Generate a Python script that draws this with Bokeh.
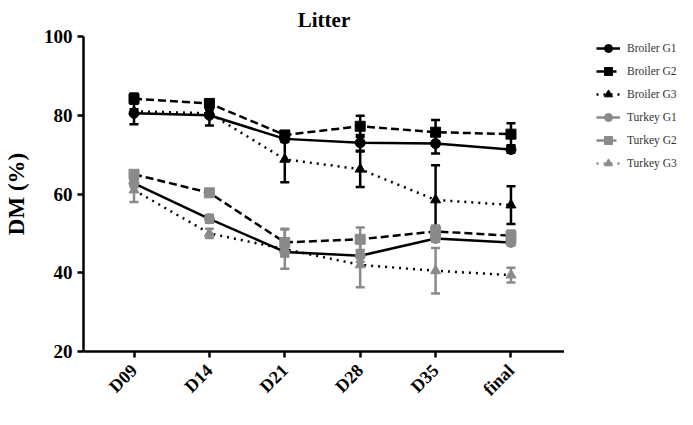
import numpy as np
from bokeh.plotting import figure
from bokeh.layouts import row
from bokeh.models import (Range1d, FixedTicker, Whisker, TeeHead, ColumnDataSource,
                          Legend, LegendItem)
from bokeh.embed import file_html
from bokeh.resources import INLINE

categories = ["D09", "D14", "D21", "D28", "D35", "final"]

broiler_g1 = [80.5, 80.0, 74.0, 73.0, 72.8, 71.3]
broiler_g1_err = [2.8, 2.6, 0.8, 2.0, 2.5, 0.8]
broiler_g2 = [84.2, 83.0, 75.0, 77.2, 75.7, 75.2]
broiler_g2_err = [1.3, 0.9, 0.9, 2.7, 3.1, 2.8]
broiler_g3 = [81.0, 80.5, 68.8, 66.3, 58.5, 57.2]
broiler_g3_err = [0.5, 0.8, 5.8, 4.5, 8.8, 4.8]
turkey_g1 = [62.7, 53.7, 45.3, 44.3, 48.7, 47.7]
turkey_g1_err = [1.0, 1.0, 1.2, 1.5, 0.8, 0.8]
turkey_g2 = [65.0, 60.3, 47.7, 48.5, 50.5, 49.4]
turkey_g2_err = [0.6, 0.6, 3.5, 3.0, 1.5, 1.3]
turkey_g3 = [61.0, 50.0, 46.0, 42.0, 40.5, 39.4]
turkey_g3_err = [3.0, 1.2, 5.0, 5.7, 5.8, 1.9]

series = [
    ("Broiler G1", broiler_g1, broiler_g1_err, "black", "solid", "circle"),
    ("Broiler G2", broiler_g2, broiler_g2_err, "black", "8 4", "square"),
    ("Broiler G3", broiler_g3, broiler_g3_err, "black", "2 5", "triangle"),
    ("Turkey G1", turkey_g1, turkey_g1_err, "#8a8a8a", "solid", "circle"),
    ("Turkey G2", turkey_g2, turkey_g2_err, "#8a8a8a", "8 4", "square"),
    ("Turkey G3", turkey_g3, turkey_g3_err, "#8a8a8a", "2 5", "triangle"),
]

FONT = "Liberation Serif"

p = figure(width=564, height=409, output_backend="svg", toolbar_location=None,
           x_range=Range1d(-0.67, 5.71), y_range=Range1d(20, 100),
           min_border_left=71, min_border_right=0, min_border_top=32,
           min_border_bottom=57, title="Litter")
p.outline_line_color = None
p.grid.visible = False
p.title.align = "center"
p.title.text_font = FONT
p.title.text_font_size = "21px"
p.title.text_font_style = "bold"
p.title.text_color = "black"

leg_fig = figure(width=120, height=409, output_backend="svg", toolbar_location=None,
                 x_range=Range1d(0, 1), y_range=Range1d(0, 1),
                 min_border=0)
leg_fig.outline_line_color = None
leg_fig.axis.visible = False
leg_fig.grid.visible = False

xs = list(range(len(categories)))
items = []
for name, vals, errs, color, dash, marker in series:
    src = ColumnDataSource(dict(x=xs, y=vals,
                                lo=[v - e for v, e in zip(vals, errs)],
                                hi=[v + e for v, e in zip(vals, errs)]))
    p.line("x", "y", source=src, line_color="black", line_width=2.5, line_dash=dash)
    w = Whisker(base="x", upper="hi", lower="lo", source=src,
                line_color=color, line_width=2.5,
                upper_head=TeeHead(size=9, line_color=color, line_width=2.5),
                lower_head=TeeHead(size=9, line_color=color, line_width=2.5))
    p.add_layout(w)
    p.scatter("x", "y", source=src, marker=marker, size=10,
              fill_color=color, line_color=color)
    lgl = leg_fig.line([0], [0], line_color=color, line_width=2.5, line_dash=dash, visible=False)
    lgs = leg_fig.scatter([0], [0], marker=marker, size=9, fill_color=color,
                          line_color=color, visible=False)
    items.append(LegendItem(label=name, renderers=[lgl, lgs]))

legend = Legend(items=items, location=(32, 178), orientation="vertical",
                label_text_font=FONT, label_text_font_size="11.5px",
                label_text_color="#333333", spacing=3, glyph_width=24,
                glyph_height=20, label_standoff=7, padding=2, margin=0,
                border_line_color=None, background_fill_alpha=0)
leg_fig.add_layout(legend, "center")

p.xaxis.ticker = FixedTicker(ticks=xs)
p.xaxis.major_label_overrides = {i: c for i, c in enumerate(categories)}
p.xaxis.major_label_orientation = np.pi / 4
p.yaxis.ticker = FixedTicker(ticks=[20, 40, 60, 80, 100])

for ax in (p.xaxis[0], p.yaxis[0]):
    ax.axis_line_width = 2.5
    ax.major_tick_line_width = 2.5
    ax.major_tick_out = 6
    ax.major_tick_in = 0
    ax.minor_tick_line_color = None
    ax.major_label_text_font = FONT
    ax.major_label_text_font_style = "bold"
    ax.major_label_text_color = "black"
    ax.axis_line_color = "black"
    ax.major_tick_line_color = "black"

p.xaxis.major_label_text_font_size = "18px"
p.xaxis.major_label_standoff = 10
p.yaxis.major_label_text_font_size = "19px"
p.yaxis.axis_label = "DM (%)"
p.yaxis.axis_label_text_font = FONT
p.yaxis.axis_label_text_font_size = "23px"
p.yaxis.axis_label_text_font_style = "bold"
p.yaxis.axis_label_text_color = "black"
p.yaxis.axis_label_standoff = 12

layout = row(p, leg_fig)
open("out.html", "w").write(file_html(layout, INLINE))
